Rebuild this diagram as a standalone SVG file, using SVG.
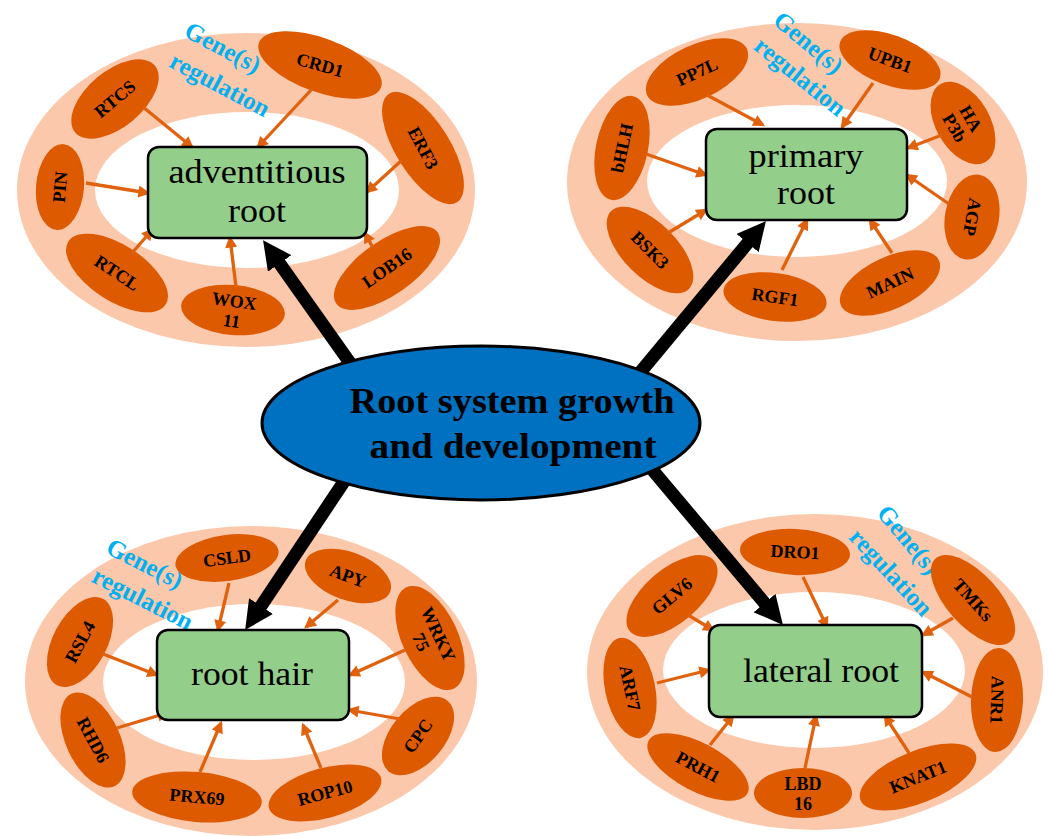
<svg xmlns="http://www.w3.org/2000/svg" width="1048" height="836" viewBox="0 0 1048 836">
<style>
.ring{fill:#FBC8AB}
.hole{fill:#FFFFFF}
.gene ellipse{fill:#DE5A00}
.gene text{font-family:"Liberation Serif",serif;font-weight:bold;font-size:18px;fill:#000;text-anchor:middle}
.box{fill:#93CE8A;stroke:#000;stroke-width:2.5}
.boxt{font-family:"Liberation Serif",serif;font-size:34px;fill:#000;text-anchor:middle}
.reg{font-family:"Liberation Serif",serif;font-weight:bold;font-size:25px;fill:#00B0F0;text-anchor:middle}
.oa{stroke:#E0620F;stroke-width:3.3;fill:none;marker-end:url(#oh)}
.ba{stroke:#000;stroke-width:13;fill:none;marker-end:url(#bh)}
.central{fill:#0070C0;stroke:#000;stroke-width:3}
.ct{font-family:"Liberation Serif",serif;font-weight:bold;font-size:35px;fill:#000;text-anchor:middle}
</style>
<defs>
<marker id="oh" markerUnits="userSpaceOnUse" viewBox="0 0 10 10" markerWidth="14" markerHeight="12" refX="8" refY="5" orient="auto"><path d="M0,0 L10,5 L0,10 z" fill="#E0620F"/></marker>
<marker id="bh" markerUnits="strokeWidth" viewBox="0 0 10 10" markerWidth="2.2" markerHeight="2.2" refX="2" refY="5" orient="auto"><path d="M0,0 L10,5 L0,10 z" fill="#000"/></marker>
</defs>
<rect width="1048" height="836" fill="#FFFFFF"/>

<!-- Cluster: adventitious root -->
<g id="cluster-adventitious">
<ellipse class="ring" cx="246" cy="190" rx="229" ry="157"/>
<ellipse class="hole" cx="247" cy="190" rx="152" ry="78"/>
<text class="reg" transform="translate(219,55) rotate(28)">Gene(s)</text>
<text class="reg" transform="translate(216,92) rotate(28)">regulation</text>
</g>
<g id="g-RTCS" class="gene" transform="translate(115,99) rotate(-40)"><ellipse rx="52" ry="28"/><text y="6">RTCS</text></g>
<g id="g-CRD1" class="gene" transform="translate(320,65) rotate(20)"><ellipse rx="65" ry="27"/><text y="6" transform="rotate(-4)">CRD1</text></g>
<g id="g-ERF3" class="gene" transform="translate(423,148) rotate(58)"><ellipse rx="64" ry="27"/><text y="6" transform="rotate(4)">ERF3</text></g>
<g id="g-PIN" class="gene" transform="translate(60,187) rotate(-85)"><ellipse rx="43" ry="24"/><text y="6">PIN</text></g>
<g id="g-RTCL" class="gene" transform="translate(117,273) rotate(33)"><ellipse rx="58" ry="28"/><text y="6">RTCL</text></g>
<g id="g-WOX11" class="gene" transform="translate(233,310) rotate(5)"><ellipse rx="52" ry="25"/><text y="-3" transform="rotate(3)">WOX</text><text y="17" transform="rotate(3)">11</text></g>
<g id="g-LOB16" class="gene" transform="translate(387,268) rotate(-35)"><ellipse rx="62" ry="27"/><text y="6">LOB16</text></g>

<!-- Cluster: primary root -->
<g id="cluster-primary">
<ellipse class="ring" cx="797" cy="182" rx="230" ry="159"/>
<ellipse class="hole" cx="797" cy="181" rx="150" ry="76"/>
<text class="reg" transform="translate(803,49) rotate(40)">Gene(s)</text>
<text class="reg" transform="translate(795,83) rotate(39)">regulation</text>
</g>
<g id="g-PP7L" class="gene" transform="translate(697,72) rotate(-25)"><ellipse rx="55" ry="27"/><text y="6">PP7L</text></g>
<g id="g-UPB1" class="gene" transform="translate(890,60) rotate(20)"><ellipse rx="53" ry="25"/><text y="6">UPB1</text></g>
<g id="g-HAP3b" class="gene" transform="translate(963,123) rotate(60)"><ellipse rx="45" ry="27"/><text y="-3">HA</text><text y="16">P3b</text></g>
<g id="g-bHLH" class="gene" transform="translate(622,148) rotate(-78)"><ellipse rx="53" ry="26"/><text y="6">bHLH</text></g>
<g id="g-BSK3" class="gene" transform="translate(650,250) rotate(45)"><ellipse rx="55" ry="27"/><text y="6">BSK3</text></g>
<g id="g-RGF1" class="gene" transform="translate(775,297) rotate(8)"><ellipse rx="52" ry="24"/><text y="6">RGF1</text></g>
<g id="g-MAIN" class="gene" transform="translate(890,283) rotate(-25)"><ellipse rx="54" ry="26"/><text y="6">MAIN</text></g>
<g id="g-AGP" class="gene" transform="translate(972,217) rotate(100)"><ellipse rx="43" ry="27"/><text y="6">AGP</text></g>

<!-- Cluster: root hair -->
<g id="cluster-roothair">
<ellipse class="ring" cx="251" cy="681" rx="226" ry="155"/>
<ellipse class="hole" cx="254" cy="682" rx="151" ry="78"/>
<text class="reg" transform="translate(141,571) rotate(27)">Gene(s)</text>
<text class="reg" transform="translate(139,606) rotate(27)">regulation</text>
</g>
<g id="g-CSLD" class="gene" transform="translate(227,558) rotate(-8)"><ellipse rx="52" ry="23"/><text y="6">CSLD</text></g>
<g id="g-APY" class="gene" transform="translate(348,576) rotate(20)"><ellipse rx="45" ry="24"/><text y="6">APY</text></g>
<g id="g-WRKY75" class="gene" transform="translate(430,638) rotate(65)"><ellipse rx="56" ry="28"/><text y="-3">WRKY</text><text y="16">75</text></g>
<g id="g-RSL4" class="gene" transform="translate(80,642) rotate(-62)"><ellipse rx="49" ry="27"/><text y="6">RSL4</text></g>
<g id="g-RHD6" class="gene" transform="translate(93,740) rotate(65)"><ellipse rx="51" ry="27"/><text y="6" transform="rotate(-3)">RHD6</text></g>
<g id="g-PRX69" class="gene" transform="translate(197,797) rotate(5)"><ellipse rx="65" ry="25"/><text y="6">PRX69</text></g>
<g id="g-ROP10" class="gene" transform="translate(325,793) rotate(-15)"><ellipse rx="58" ry="25"/><text y="6">ROP10</text></g>
<g id="g-CPC" class="gene" transform="translate(418,736) rotate(-50)"><ellipse rx="46" ry="27"/><text y="6" transform="rotate(-5)">CPC</text></g>

<!-- Cluster: lateral root -->
<g id="cluster-lateral">
<ellipse class="ring" cx="815" cy="672" rx="228" ry="158"/>
<ellipse class="hole" cx="814" cy="670" rx="151" ry="78"/>
<text class="reg" transform="translate(902,545) rotate(50)">Gene(s)</text>
<text class="reg" transform="translate(885,578) rotate(47)">regulation</text>
</g>
<g id="g-DRO1" class="gene" transform="translate(795,552) rotate(3)"><ellipse rx="55" ry="23"/><text y="6">DRO1</text></g>
<g id="g-GLV6" class="gene" transform="translate(672,596) rotate(-40)"><ellipse rx="55" ry="27"/><text y="6">GLV6</text></g>
<g id="g-TMKs" class="gene" transform="translate(973,600) rotate(48)"><ellipse rx="56" ry="26"/><text y="6">TMKs</text></g>
<g id="g-ARF7" class="gene" transform="translate(630,688) rotate(78)"><ellipse rx="51" ry="25"/><text y="6">ARF7</text></g>
<g id="g-ANR1" class="gene" transform="translate(997,700) rotate(92)"><ellipse rx="52" ry="26"/><text y="6">ANR1</text></g>
<g id="g-PRH1" class="gene" transform="translate(698,767) rotate(28)"><ellipse rx="56" ry="24"/><text y="6">PRH1</text></g>
<g id="g-LBD16" class="gene" transform="translate(803,793)"><ellipse rx="49" ry="25"/><text y="-3">LBD</text><text y="17">16</text></g>
<g id="g-KNAT1" class="gene" transform="translate(918,777) rotate(-22)"><ellipse rx="62" ry="26"/><text y="6">KNAT1</text></g>

<!-- Connectors -->
<g id="connectors">
<line class="oa" x1="143" y1="107" x2="192" y2="147"/>
<line class="oa" x1="312" y1="89" x2="258" y2="147"/>
<line class="oa" x1="402" y1="160" x2="367" y2="192"/>
<line class="oa" x1="86" y1="183" x2="148" y2="193"/>
<line class="oa" x1="132" y1="253" x2="152" y2="230"/>
<line class="oa" x1="236" y1="287" x2="230" y2="238"/>
<line class="oa" x1="373" y1="248" x2="365" y2="233"/>

<line class="oa" x1="707" y1="95" x2="763" y2="125"/>
<line class="oa" x1="873" y1="83" x2="842" y2="127"/>
<line class="oa" x1="942" y1="135" x2="908" y2="148"/>
<line class="oa" x1="646" y1="154" x2="706" y2="175"/>
<line class="oa" x1="949" y1="204" x2="907" y2="175"/>
<line class="oa" x1="668" y1="233" x2="706" y2="210"/>
<line class="oa" x1="782" y1="270" x2="807" y2="220"/>
<line class="oa" x1="892" y1="253" x2="870" y2="220"/>

<line class="oa" x1="229" y1="583" x2="218" y2="630"/>
<line class="oa" x1="338" y1="600" x2="306" y2="627"/>
<line class="oa" x1="405" y1="650" x2="350" y2="675"/>
<line class="oa" x1="103" y1="654" x2="157" y2="675"/>
<line class="oa" x1="117" y1="728" x2="167" y2="713"/>
<line class="oa" x1="400" y1="719" x2="349" y2="710"/>
<line class="oa" x1="200" y1="772" x2="221" y2="723"/>
<line class="oa" x1="321" y1="768" x2="303" y2="725"/>

<line class="oa" x1="803" y1="577" x2="827" y2="627"/>
<line class="oa" x1="688" y1="615" x2="713" y2="630"/>
<line class="oa" x1="953" y1="618" x2="923" y2="635"/>
<line class="oa" x1="657" y1="683" x2="709" y2="670"/>
<line class="oa" x1="972" y1="697" x2="923" y2="672"/>
<line class="oa" x1="710" y1="745" x2="733" y2="716"/>
<line class="oa" x1="805" y1="768" x2="816" y2="716"/>
<line class="oa" x1="909" y1="753" x2="885" y2="716"/>

<line class="ba" x1="378.6" y1="403.2" x2="276.3" y2="258.8"/>
<line class="ba" x1="638" y1="375" x2="751.3" y2="238.7"/>
<line class="ba" x1="356" y1="463.6" x2="257.8" y2="610.9"/>
<line class="ba" x1="647.8" y1="464.4" x2="768.2" y2="607.4"/>
</g>

<!-- Target nodes -->
<g id="adventitious-root">
<rect class="box" x="148" y="147" width="219" height="91" rx="11"/>
<text class="boxt" x="257" y="183" textLength="177" lengthAdjust="spacingAndGlyphs">adventitious</text>
<text class="boxt" x="257" y="222" textLength="58" lengthAdjust="spacingAndGlyphs">root</text>
</g>
<g id="primary-root">
<rect class="box" x="706" y="129" width="201" height="91" rx="11"/>
<text class="boxt" x="806" y="167" textLength="115" lengthAdjust="spacingAndGlyphs">primary</text>
<text class="boxt" x="806" y="204" textLength="58" lengthAdjust="spacingAndGlyphs">root</text>
</g>
<g id="root-hair">
<rect class="box" x="157" y="630" width="192" height="90" rx="11"/>
<text class="boxt" x="252" y="685" textLength="122" lengthAdjust="spacingAndGlyphs">root hair</text>
</g>
<g id="lateral-root">
<rect class="box" x="709" y="625" width="213" height="92" rx="11"/>
<text class="boxt" x="821" y="682" textLength="156" lengthAdjust="spacingAndGlyphs">lateral root</text>
</g>

<!-- Central node -->
<g id="central">
<ellipse class="central" cx="481" cy="423" rx="219" ry="77"/>
<text class="ct" x="512" y="413" textLength="325" lengthAdjust="spacingAndGlyphs">Root system growth</text>
<text class="ct" x="513" y="458" textLength="287" lengthAdjust="spacingAndGlyphs">and development</text>
</g>
</svg>
